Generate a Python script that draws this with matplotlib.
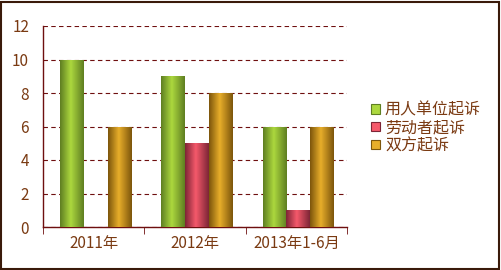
import numpy as np
import matplotlib
matplotlib.use("Agg")
import matplotlib.pyplot as plt
from matplotlib.colors import LinearSegmentedColormap
from matplotlib.patches import Rectangle, Patch

plt.rcParams['font.family'] = ['Noto Sans CJK SC', 'DejaVu Sans']

categories = ["2011年", "2012年", "2013年1-6月"]
series_names = ["用人单位起诉", "劳动者起诉", "双方起诉"]
employer = [10, 9, 6]
worker = [0, 5, 1]
both = [6, 8, 6]

# dark edge, light centre for each series
shades = [("#5f7f22", "#acd83e"), ("#7e2536", "#f5596b"), ("#7d560c", "#e8ae2a")]
text_color = "#7a3a12"
line_color = "#6e0f0f"

fig = plt.figure(figsize=(5.01, 2.70), dpi=100)
ax = fig.add_axes([43 / 501, 1 - 227 / 270, 304 / 501, 201 / 270])

x = np.arange(len(categories))
width = 0.235
grad = np.linspace(0, 1, 64).reshape(1, -1)

for k, vals in enumerate([employer, worker, both]):
    dark, light = shades[k]
    cmap = LinearSegmentedColormap.from_list("g%d" % k, [(0, dark), (0.45, light), (1, dark)])
    bars = ax.bar(x + 0.02 + (k - 1) * width, vals, width, color=light, linewidth=0, zorder=2)
    for b in bars:
        if b.get_height() <= 0:
            continue
        x0 = b.get_x()
        im = ax.imshow(grad, cmap=cmap, aspect='auto', zorder=3,
                       extent=[x0, x0 + b.get_width(), 0, b.get_height()])
        im.set_clip_path(b)

ax.set_xlim(-0.5, 2.5)
ax.set_ylim(0, 12)
ax.set_yticks(range(0, 13, 2))
ax.set_xticks(x)
ax.set_xticklabels(categories)
ax.set_xticks([-0.5, 0.5, 1.5, 2.5], minor=True)

ax.yaxis.grid(True, linestyle=(0, (4, 3)), color=line_color, linewidth=0.8, zorder=1)
ax.set_axisbelow(True)

for s in ["top", "right"]:
    ax.spines[s].set_visible(False)
for s in ["left", "bottom"]:
    ax.spines[s].set_color(line_color)
    ax.spines[s].set_linewidth(1.0)

ax.tick_params(axis='x', which='major', length=0, pad=6, labelsize=11, labelcolor=text_color)
ax.tick_params(axis='x', which='minor', length=5, color=line_color, direction='out')
ax.tick_params(axis='y', length=0, labelsize=11, labelcolor=text_color, pad=10)

handles = [Patch(facecolor=shades[k][1], edgecolor=shades[k][0], linewidth=0.8) for k in range(3)]
leg = fig.legend(handles, series_names, loc='upper left', bbox_to_anchor=(365 / 501, 1 - 95 / 270),
                 frameon=False, fontsize=11.5, handlelength=0.55, handleheight=0.55,
                 handletextpad=0.3, labelspacing=0.05, borderaxespad=0)
for t in leg.get_texts():
    t.set_color(text_color)

# outer frame of the chart
fig.patches.append(Rectangle((0.002, 0.004), 0.994, 0.99, transform=fig.transFigure,
                             fill=False, edgecolor="#3a1a0a", linewidth=1.5))

fig.savefig("out.png", dpi=100)
